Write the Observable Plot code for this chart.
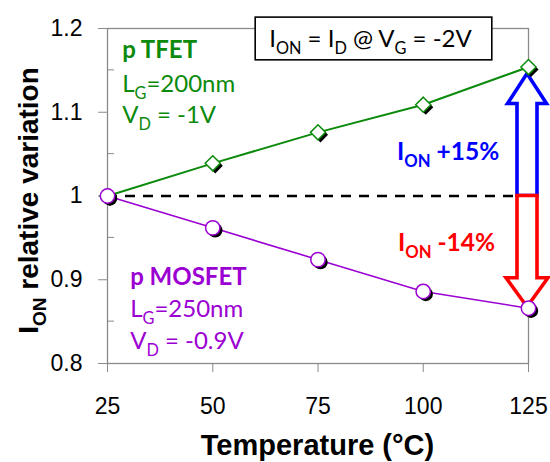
<!DOCTYPE html>
<html><head><meta charset="utf-8">
<script src="https://cdn.jsdelivr.net/npm/d3@7"></script>
<script src="https://cdn.jsdelivr.net/npm/@observablehq/plot@0.6"></script>
<style>
html,body{margin:0;padding:0;background:#fff;}
</style>
</head><body>
<div id="chart"></div>
<script>
const temps = [25, 50, 75, 100, 125];
const tfet = [1.000, 1.039, 1.076, 1.109, 1.154];
const mosfet = [1.000, 0.962, 0.924, 0.886, 0.866];
const xTicks = [25, 50, 75, 100, 125];
const yTicks = [0.8, 0.9, 1.0, 1.1, 1.2];
const yMinor = [0.85, 0.95, 1.05, 1.15];

const GREEN = "#0c8a0c";
const PURPLE = "#9b00d3";
const ARIAL = "'Liberation Sans', Arial, sans-serif";
const CAL = "Lato, 'Liberation Sans', sans-serif";

const tf = temps.map((t, i) => ({t, v: tfet[i]}));
const mo = temps.map((t, i) => ({t, v: mosfet[i]}));

const NS = "http://www.w3.org/2000/svg";
function el(name, attrs, parent) {
  const e = document.createElementNS(NS, name);
  for (const k in attrs) e.setAttribute(k, attrs[k]);
  if (parent) parent.appendChild(e);
  return e;
}
// parts: strings are normal, arrays ([s]) are subscripts
function rich(g, parts, x, y, o) {
  const t = el("text", {x, y, "font-family": o.font || CAL, "font-size": o.size,
    "font-weight": o.weight || "normal", fill: o.fill || "black",
    "text-anchor": o.anchor || "start"}, g);
  if (o.rotate) t.setAttribute("transform", `rotate(${o.rotate},${x},${y})`);
  let shifted = 0;
  for (const p of parts) {
    const sub = Array.isArray(p);
    const s = sub ? p[0] : p;
    const target = sub ? o.size * 0.28 : 0;
    const ts = el("tspan", {dy: target - shifted, "font-size": sub ? o.size * 0.68 : o.size}, t);
    ts.textContent = s;
    shifted = target;
  }
  return t;
}

function arrow(g, cx, yBase, yApex, sw, hw, hl, color) {
  const dir = yApex < yBase ? 1 : -1;
  const yh = yApex + dir * hl;
  const d = `M${cx - sw},${yBase}L${cx - sw},${yh}L${cx - hw},${yh}L${cx},${yApex}L${cx + hw},${yh}L${cx + sw},${yh}L${cx + sw},${yBase}Z`;
  el("path", {d, fill: "white", stroke: color, "stroke-width": 3.6, "stroke-linejoin": "miter"}, g);
}

const minorTicks = (index, scales) => {
  const g = el("g", {});
  const x0 = scales.x(25);
  for (const v of yMinor) {
    const y = scales.y(v);
    el("line", {x1: x0, x2: x0 + 7, y1: y, y2: y, stroke: "#888", "stroke-width": 1}, g);
  }
  return g;
};

const arrows = (index, scales) => {
  const g = el("g", {});
  const cx = scales.x(125) - 1;
  const y1 = scales.y(1);
  arrow(g, cx, y1, scales.y(tfet[4]) + 7, 10, 19.5, 30, "#0000ff");
  arrow(g, cx, y1, scales.y(mosfet[4]) - 1, 10, 21, 29, "#ff0000");
  return g;
};

const annotations = (index, scales) => {
  const g = el("g", {});
  const X = scales.x, Y = scales.y;
  // legend box
  const bx0 = X(60.2), bx1 = X(116.4), by0 = Y(1.213), by1 = Y(1.162);
  el("rect", {x: bx0, y: by0, width: bx1 - bx0, height: by1 - by0, fill: "white", stroke: "black", "stroke-width": 1.6}, g);
  rich(g, ["I", ["ON"], " = I", ["D"], " @ V", ["G"], " = -2V"], (bx0 + bx1) / 2 - 3, Y(1.177), {size: 24, anchor: "middle"});
  // TFET labels
  rich(g, ["p TFET"], X(28.6), Y(1.164), {size: 24, weight: "bold", fill: GREEN});
  rich(g, ["L", ["G"], "=200nm"], X(28.6), Y(1.1236), {size: 24, fill: GREEN});
  rich(g, ["V", ["D"], " = -1V"], X(28.6), Y(1.0866), {size: 24, fill: GREEN});
  // MOSFET labels
  rich(g, ["p MOSFET"], X(30.5), Y(0.8931), {size: 24, weight: "bold", fill: PURPLE});
  rich(g, ["L", ["G"], "=250nm"], X(30.5), Y(0.8549), {size: 24, fill: PURPLE});
  rich(g, ["V", ["D"], " = -0.9V"], X(30.5), Y(0.8167), {size: 24, fill: PURPLE});
  // variation labels
  rich(g, ["I", ["ON"], " +15%"], X(93.9), Y(1.0424), {size: 24.5, weight: "bold", fill: "#0000ff"});
  rich(g, ["I", ["ON"], " -14%"], X(94.1), Y(0.9337), {size: 24.5, weight: "bold", fill: "#ff0000"});
  // axis titles
  rich(g, ["Temperature (°C)"], X(75), Y(0.8) + 92, {size: 29, weight: "bold", anchor: "middle", font: ARIAL});
  const yc = (Y(0.8) + Y(1.2)) / 2 + 5;
  rich(g, ["I", ["ON"], " relative variation"], 38, yc, {size: 28, weight: "bold", anchor: "middle", font: ARIAL, rotate: -90});
  return g;
};

const fmt = d => String(+(+d).toFixed(1));

const chart = Plot.plot({
  width: 550,
  height: 462,
  marginLeft: 107,
  marginRight: 22,
  marginTop: 28,
  marginBottom: 99,
  style: {fontFamily: ARIAL, background: "white", overflow: "visible"},
  x: {domain: [25, 125]},
  y: {domain: [0.8, 1.2]},
  marks: [
    Plot.frame({stroke: "#8a8a8a", strokeWidth: 1.3}),
    Plot.axisX(xTicks, {tickSize: 9, tickPadding: 25, fontSize: 23, stroke: "#8a8a8a", fill: "black", label: null, tickFormat: d => String(d)}),
    Plot.axisY(yTicks, {tickSize: 9, tickPadding: 16, fontSize: 23, stroke: "#8a8a8a", fill: "black", label: null, tickFormat: fmt}),
    minorTicks,
    Plot.ruleY([1], {stroke: "black", strokeWidth: 2.5, strokeDasharray: "10,8"}),
    Plot.line(tf, {x: "t", y: "v", stroke: GREEN, strokeWidth: 2}),
    Plot.line(mo, {x: "t", y: "v", stroke: PURPLE, strokeWidth: 1.6}),
    arrows,
    Plot.dot(tf, {x: "t", y: "v", symbol: "diamond2", r: 6.8, fill: "black", dx: 2.5, dy: 2.5}),
    Plot.dot(tf, {x: "t", y: "v", symbol: "diamond2", r: 6.8, fill: "white", stroke: GREEN, strokeWidth: 1.5}),
    Plot.dot(mo, {x: "t", y: "v", r: 7.2, fill: "black", dx: 2.5, dy: 2.5}),
    Plot.dot(mo, {x: "t", y: "v", r: 7.2, fill: "white", stroke: PURPLE, strokeWidth: 1.5}),
    annotations
  ]
});
document.getElementById("chart").appendChild(chart);
</script>
</body></html>
